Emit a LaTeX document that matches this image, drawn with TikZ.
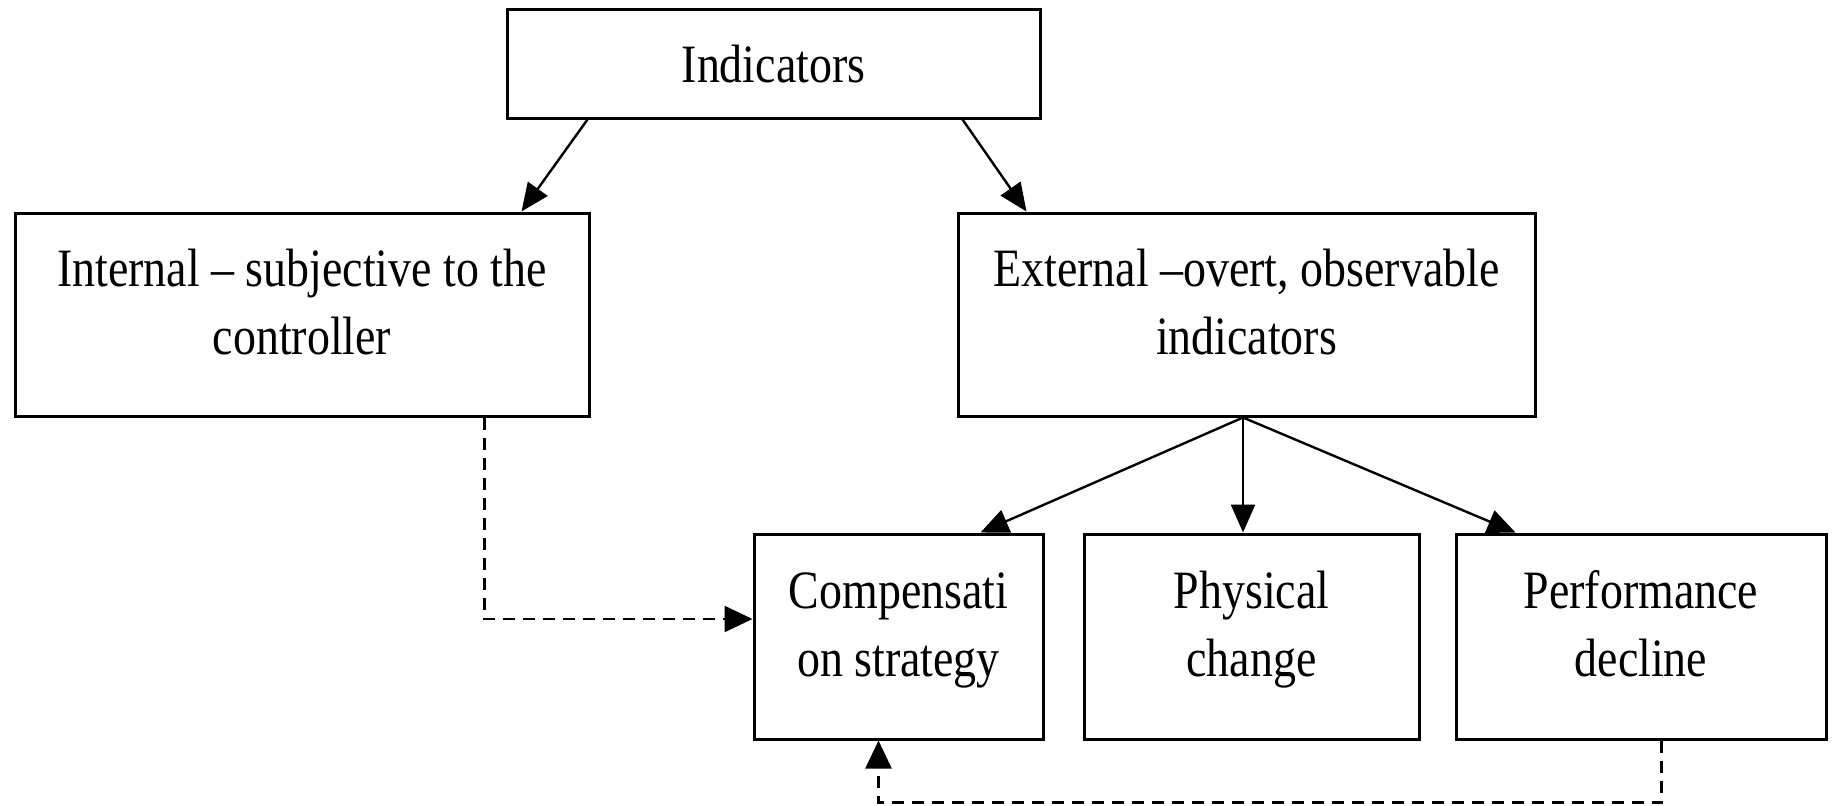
\documentclass[tikz,border=0pt]{standalone}
\usepackage{fontspec}
\setmainfont{Liberation Serif}[FakeStretch=0.85]
\usetikzlibrary{arrows.meta,calc}
\begin{document}
\begin{tikzpicture}[x=0.5pt,y=-0.5pt,
  box/.style={draw, line width=1.5pt, inner sep=0pt},
  lbl/.style={align=center, inner sep=0pt, font=\fontsize{27pt}{34pt}\selectfont},
  arr/.style={-{Triangle[length=14pt,width=12pt]}, line width=1.2pt},
  darr/.style={-{Triangle[length=14pt,width=13pt]}, line width=1.2pt, dash pattern=on 6pt off 4pt}]
\useasboundingbox (0,0) rectangle (1835,805);
\node[box, minimum width=266.5pt, minimum height=54.5pt,
  label={[lbl, yshift=-2.5pt, name=indT]center:{\strut Indicators}}] (ind) at (773.5,63.5) {};
\node[box, minimum width=287pt, minimum height=101.5pt,
  label={[lbl, yshift=4pt, name=intT]center:{\strut Internal – subjective to the\\controller\strut}}] (int) at (302,314.5) {};
\node[box, minimum width=288.5pt, minimum height=101.5pt,
  label={[lbl, yshift=4pt, name=extT]center:{\strut External –overt, observable\\indicators\strut}}] (ext) at (1246.5,314.5) {};
\node[box, minimum width=144.5pt, minimum height=102.5pt,
  label={[lbl, yshift=4pt, name=compT]center:{\strut Compensati\\on strategy\strut}}] (comp) at (898.5,636.5) {};
\node[box, minimum width=167.5pt, minimum height=102.5pt,
  label={[lbl, yshift=4pt, name=physT]center:{\strut Physical\\change\strut}}] (phys) at (1251.5,636.5) {};
\node[box, minimum width=185pt, minimum height=102.5pt,
  label={[lbl, yshift=4pt, name=perfT]center:{\strut Performance\\decline\strut}}] (perf) at (1641,636.5) {};
\coordinate (src) at ([xshift=-1.75pt]ext.south);
\draw[arr] ([xshift=41pt]ind.south west) -- ([xshift=254pt]int.north west);
\draw[arr] ([xshift=228.5pt]ind.south west) -- ([xshift=35pt]ext.north west);
\draw[arr] (src) -- ([xshift=114pt]comp.north west);
\draw[arr] (src) -- (src |- phys.north);
\draw[arr] (src) -- ([xshift=30.5pt]perf.north west);
\draw[darr] ([xshift=235.5pt]int.south west) |- ([yshift=8.75pt]comp.west);
\draw[darr] ([xshift=103.5pt]perf.south west) -- ++(0,62) -| ([xshift=63pt]comp.south west);
\end{tikzpicture}
\end{document}
